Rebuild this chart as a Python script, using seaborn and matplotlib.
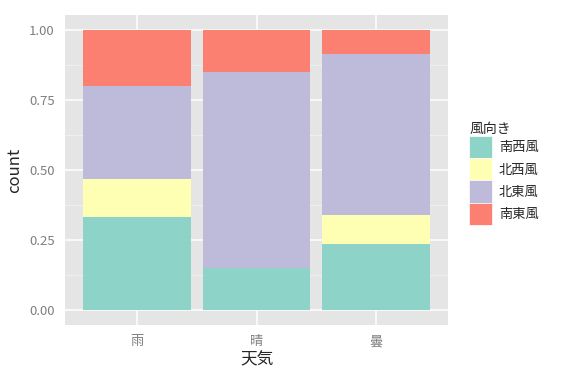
import matplotlib
matplotlib.use("Agg")
import matplotlib.pyplot as plt
import numpy as np
import pandas as pd
import seaborn as sns
from matplotlib.patches import Patch
from matplotlib.ticker import MultipleLocator

# data: counts of wind direction per weather
weather = ["雨", "晴", "曇"]
directions = ["南西風", "北西風", "北東風", "南東風"]
counts_sw = [5, 3, 11]
counts_nw = [2, 0, 5]
counts_ne = [5, 14, 27]
counts_se = [3, 3, 4]
colors = ["#8DD3C7", "#FFFFB3", "#BEBADA", "#FB8072"]

rows = []
for d, vals in zip(directions, [counts_sw, counts_nw, counts_ne, counts_se]):
    for w, v in zip(weather, vals):
        rows.append({"天気": w, "風向き": d, "count": v})
df = pd.DataFrame(rows)
df["風向き"] = pd.Categorical(df["風向き"], directions, ordered=True)
df = df.sort_values(["天気", "風向き"])
df["prop"] = df["count"] / df.groupby("天気")["count"].transform("sum")
df["cum"] = df.groupby("天気")["prop"].cumsum()

sns.set_style("white")
plt.rcParams['font.family'] = ['Noto Sans CJK JP', 'DejaVu Sans']

fig = plt.figure(figsize=(5.69, 3.77), dpi=100)
ax = fig.add_axes([65/569, 52/377, 383/569, 310/377])

# overlay cumulative bars from the top layer down
for d, c in reversed(list(zip(directions, colors))):
    sub = df[df["風向き"] == d]
    sns.barplot(data=sub, x="天気", y="cum", order=weather, color=c,
                saturation=1, width=0.9, errorbar=None, linewidth=0, ax=ax)

ax.set_xlim(-0.6, 2.6)
ax.set_ylim(-0.055, 1.055)
ax.set_facecolor("#E5E5E5")
ax.yaxis.set_major_locator(MultipleLocator(0.25))
ax.yaxis.set_minor_locator(MultipleLocator(0.125))
ax.set_yticks([0, 0.25, 0.5, 0.75, 1.0])
ax.set_yticklabels(["0.00", "0.25", "0.50", "0.75", "1.00"])
ax.set_axisbelow(True)
ax.grid(which="major", color="white", linewidth=1.1)
ax.grid(which="minor", axis="y", color="#F2F2F2", linewidth=0.6)
for s in ax.spines.values():
    s.set_visible(False)
ax.tick_params(axis="both", which="major", length=4, color="#7F7F7F",
               labelcolor="#7F7F7F", labelsize=9.5, width=1)
ax.tick_params(which="minor", length=0)
ax.set_xlabel("天気", fontsize=12, labelpad=2)
ax.set_ylabel("count", fontsize=12, labelpad=4)

handles = [Patch(facecolor=c, edgecolor="white", linewidth=0.5) for c in colors]
leg = fig.legend(handles, directions, title="風向き", loc="center left",
                 bbox_to_anchor=(464/569, 0.54), frameon=False, fontsize=9.5,
                 title_fontsize=10, handlelength=1.75, handleheight=2.2,
                 labelspacing=0.0, handletextpad=0.5, borderaxespad=0)
leg._legend_box.align = "left"

fig.savefig("out.png", dpi=100)
